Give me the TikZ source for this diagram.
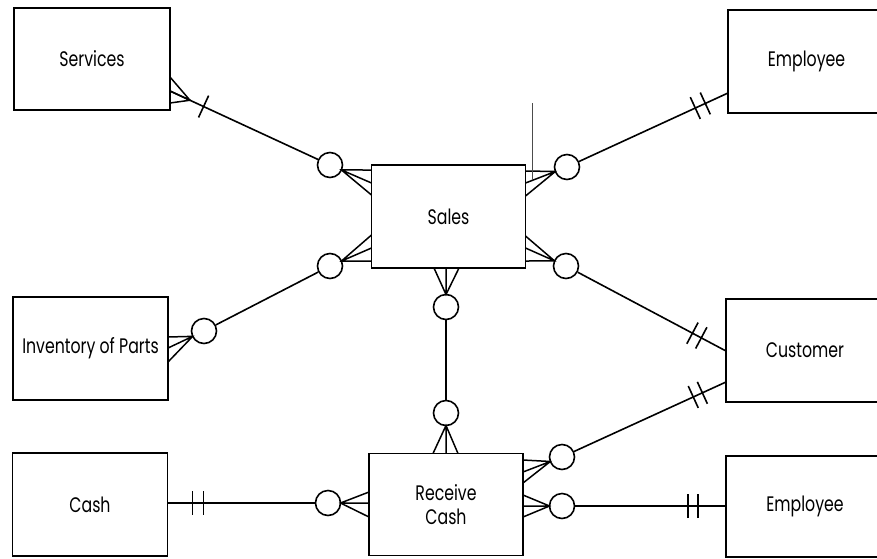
\documentclass[tikz,border=0pt]{standalone}
\usepackage{fontspec}
\setmainfont{Poppins}[FakeStretch=0.75]
\usetikzlibrary{calc}

% one cardinality bar across the line from #1 towards #2, #3 from #1
\newcommand\erTick[3]{%
  \coordinate (tk) at ($(#1)!#3!(#2)$);
  \draw[bar] ($(tk)!12pt!90:(#2)$) -- ($(tk)!12pt!-90:(#2)$);}
% crow's foot: tip #1 fanned out to the three edge points #2 #3 #4
\newcommand\erCrow[4]{%
  \draw[crowline] (#2) -- (#1) -- (#4) (#1) -- (#3);}

\begin{document}
\begin{tikzpicture}[x=1pt,y=-1pt,
  entity/.style={draw, line width=1.2pt, inner sep=0pt, align=center,
    font=\fontsize{21}{24}\selectfont},
  opt/.style={draw, circle, line width=1.6pt, minimum size=25pt, inner sep=0pt},
  rel/.style={line width=1.6pt},
  crowline/.style={line width=1.5pt},
  bar/.style={line width=1.6pt}]
\useasboundingbox (0,0) rectangle (877,558);
\fill[white] (0,0) rectangle (877,558);

% entities
\node[entity, minimum width=156pt, minimum height=102pt] (services) at (92,59) {Services};
\node[entity, minimum width=157pt, minimum height=103pt] (emptop) at (806.5,61.5) {Employee};
\node[entity, minimum width=154pt, minimum height=103pt] (sales) at (448.5,216.5) {Sales};
\node[entity, minimum width=155pt, minimum height=103pt] (inv) at (90.5,348.5) {Inventory of Parts};
\node[entity, minimum width=158pt, minimum height=103pt] (cust) at (805,350.5) {Customer};
\node[entity, minimum width=155pt, minimum height=103pt] (cash) at (90,504.5) {Cash};
\node[entity, minimum width=154pt, minimum height=102pt] (recv) at (446,504.5) {Receive\\Cash};
\node[entity, minimum width=158pt, minimum height=101pt] (empbot) at (805,506.5) {Employee};

% optionality circles
\node[opt] (c1) at (330,165) {};
\node[opt] (c2) at (567,167) {};
\node[opt] (c3) at (330,266) {};
\node[opt] (c4) at (204,331) {};
\node[opt] (c5) at (566,266) {};
\node[opt] (c6) at (446,307) {};
\node[opt] (c7) at (446,413) {};
\node[opt] (c8) at (562,457) {};
\node[opt] (c9) at (562,506) {};
\node[opt] (c10) at (328,503) {};

% attachment points on the entity edges
\coordinate (sv1) at (170,77);  \coordinate (sv2) at (170,91);  \coordinate (sv3) at (170,103);
\coordinate (sa1) at (371.5,170); \coordinate (sa2) at (371.5,183); \coordinate (sa3) at (371.5,195);
\coordinate (sa4) at (525.5,171); \coordinate (sa5) at (525.5,183); \coordinate (sa6) at (525.5,196);
\coordinate (sa7) at (371.5,235); \coordinate (sa8) at (371.5,248); \coordinate (sa9) at (371.5,261);
\coordinate (sa10) at (525.5,236); \coordinate (sa11) at (525.5,248); \coordinate (sa12) at (525.5,261);
\coordinate (sa13) at (434,268); \coordinate (sa14) at (446,268); \coordinate (sa15) at (459,268);
\coordinate (rc1) at (433,453.5); \coordinate (rc2) at (446,453.5); \coordinate (rc3) at (458,453.5);
\coordinate (rc4) at (523,460); \coordinate (rc5) at (523,472); \coordinate (rc6) at (523,483);
\coordinate (rc7) at (523,495); \coordinate (rc8) at (523,506); \coordinate (rc9) at (523,517);
\coordinate (rc10) at (369,492); \coordinate (rc11) at (369,503); \coordinate (rc12) at (369,517);
\coordinate (iv1) at (168,337); \coordinate (iv2) at (168,348); \coordinate (iv3) at (168,362);
\coordinate (et) at (728,93);
\coordinate (cu1) at (726,351);
\coordinate (cu2) at (726,382);
\coordinate (eb) at (726,506);
\coordinate (ca) at (167.5,503);

% Services -- Sales
\draw[rel] (sv2) -- (c1);
\erCrow{$(sv2)!22pt!(c1)$}{sv1}{sv2}{sv3}
\erTick{sv2}{c1}{37pt}
\erCrow{$(c1)!12.5pt!(sa2)$}{sa1}{sa2}{sa3}

% Employee -- Sales
\draw[rel] (et) -- (c2);
\erTick{et}{c2}{25pt}
\erTick{et}{c2}{36pt}
\erCrow{$(c2)!12.5pt!(sa5)$}{sa4}{sa5}{sa6}

% Sales -- Inventory of Parts
\draw[rel] (c3) -- (c4);
\erCrow{$(c3)!12.5pt!(sa8)$}{sa7}{sa8}{sa9}
\erCrow{$(c4)!12.5pt!(iv2)$}{iv1}{iv2}{iv3}

% Sales -- Customer
\draw[rel] (cu1) -- (c5);
\erTick{cu1}{c5}{28pt}
\erTick{cu1}{c5}{38pt}
\erCrow{$(c5)!12.5pt!(sa11)$}{sa10}{sa11}{sa12}

% Sales -- Receive Cash
\draw[rel] (c6) -- (c7);
\erCrow{$(c6)!12.5pt!(sa14)$}{sa13}{sa14}{sa15}
\erCrow{$(c7)!12.5pt!(rc2)$}{rc1}{rc2}{rc3}

% Receive Cash -- Customer
\draw[rel] (cu2) -- (c8);
\erTick{cu2}{c8}{26pt}
\erTick{cu2}{c8}{36pt}
\erCrow{$(c8)!12.5pt!(rc5)$}{rc4}{rc5}{rc6}

% Receive Cash -- Employee
\draw[rel] (eb) -- (c9);
\erTick{eb}{c9}{28pt}
\erTick{eb}{c9}{38pt}
\erCrow{$(c9)!12.5pt!(rc8)$}{rc7}{rc8}{rc9}

% Cash -- Receive Cash
\draw[rel] (ca) -- (c10);
\erTick{ca}{c10}{25pt}
\erTick{ca}{c10}{36pt}
\erCrow{$(c10)!12.5pt!(rc11)$}{rc10}{rc11}{rc12}

% thin vertical stroke above Sales
\draw[line width=0.8pt, black!70] (532,103) -- (532,180);
\end{tikzpicture}
\end{document}
